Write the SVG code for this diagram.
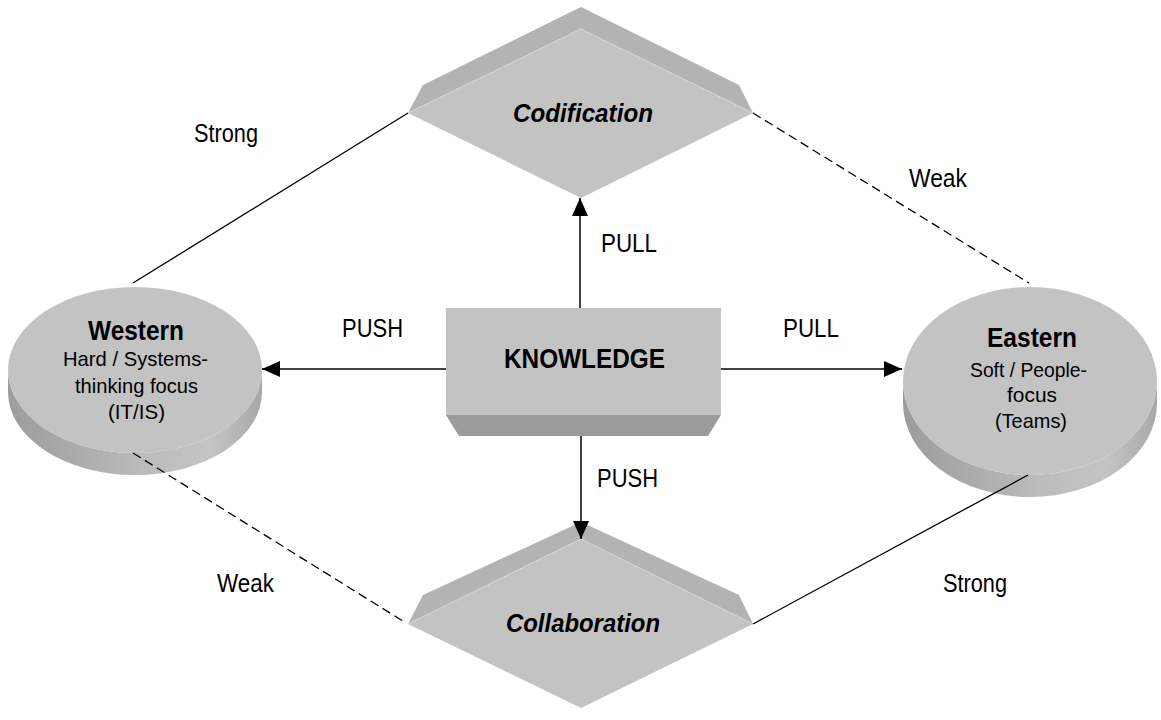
<svg xmlns="http://www.w3.org/2000/svg" width="1161" height="720" viewBox="0 0 1161 720">
<style>
text{font-family:"Liberation Sans",Arial,sans-serif;fill:#000}
.lbl{font-size:26px}
.sub{font-size:21px}
.ttl{font-size:27px;font-weight:bold}
.dia{font-size:26px;font-weight:bold;font-style:italic}
.face{fill:#c3c3c3}
.bevel{fill:#b3b3b3}
.seam{fill:none;stroke:#d6d6d6;stroke-width:1}
.conn{fill:none;stroke:#000;stroke-width:1.3}
.dash{stroke-dasharray:9 5}
.arr{fill:none;stroke:#000;stroke-width:1.5;marker-end:url(#ah)}
</style>
<defs>
<marker id="ah" markerUnits="userSpaceOnUse" markerWidth="18" markerHeight="16" refX="18" refY="8" orient="auto">
<path d="M0,0 L18,8 L0,16 Z" fill="#000"/>
</marker>
<linearGradient id="side" x1="0" y1="0" x2="1" y2="0">
<stop offset="0" stop-color="#9c9c9c"/>
<stop offset="0.55" stop-color="#bcbcbc"/>
<stop offset="0.8" stop-color="#c4c4c4"/>
<stop offset="1" stop-color="#a8a8a8"/>
</linearGradient>
</defs>
<rect width="1161" height="720" fill="#fff"/>

<g id="codification">
<polygon class="bevel" points="408,113 423,85 581,7 739,85 753,113 581,29"/>
<polygon class="face" points="581,29 753,113 581,198 408,113"/>
<polyline class="seam" points="408,113 581,29 753,113"/>
<text class="dia" x="513" y="122" textLength="140" lengthAdjust="spacingAndGlyphs">Codification</text>
</g>

<g id="collaboration">
<polygon class="bevel" points="408,624 423,595 581,522 739,595 753,624 581,539"/>
<polygon class="face" points="581,539 753,624 581,708 408,624"/>
<polyline class="seam" points="408,624 581,539 753,624"/>
<text class="dia" x="506" y="632" textLength="154" lengthAdjust="spacingAndGlyphs">Collaboration</text>
</g>

<g id="knowledge">
<polygon fill="#9b9b9b" points="446,415 721,415 708,436 459,436"/>
<rect class="face" x="446" y="308" width="275" height="107"/>
<text class="ttl" style="font-size:28px" x="504" y="368" textLength="161" lengthAdjust="spacingAndGlyphs">KNOWLEDGE</text>
</g>

<g id="western">
<path fill="url(#side)" d="M8,370 A127 83 0 0 0 262,370 L262,392 A127 83 0 0 1 8,392 Z"/>
<ellipse class="face" cx="135" cy="370" rx="127" ry="83"/>
<text class="ttl" x="88" y="340" textLength="96" lengthAdjust="spacingAndGlyphs">Western</text>
<text class="sub" x="63" y="366" textLength="145" lengthAdjust="spacingAndGlyphs">Hard / Systems-</text>
<text class="sub" x="75" y="393" textLength="123" lengthAdjust="spacingAndGlyphs">thinking focus</text>
<text class="sub" x="108" y="419" textLength="57" lengthAdjust="spacingAndGlyphs">(IT/IS)</text>
</g>

<g id="eastern">
<path fill="url(#side)" d="M903,381 A127 94 0 0 0 1157,381 L1157,403 A127 94 0 0 1 903,403 Z"/>
<ellipse class="face" cx="1030" cy="381" rx="127" ry="94"/>
<text class="ttl" x="987" y="347" textLength="90" lengthAdjust="spacingAndGlyphs">Eastern</text>
<text class="sub" x="970" y="377" textLength="117" lengthAdjust="spacingAndGlyphs">Soft / People-</text>
<text class="sub" x="1007" y="402" textLength="50" lengthAdjust="spacingAndGlyphs">focus</text>
<text class="sub" x="995" y="428" textLength="72" lengthAdjust="spacingAndGlyphs">(Teams)</text>
</g>

<g id="connectors">
<line class="conn" x1="133" y1="283" x2="408" y2="113"/>
<line class="conn dash" x1="753" y1="113" x2="1029" y2="283"/>
<line class="conn dash" x1="133" y1="453" x2="406" y2="623"/>
<line class="conn" x1="753" y1="624" x2="1028" y2="475"/>
<line class="arr" x1="580" y1="308" x2="580" y2="198"/>
<line class="arr" x1="446" y1="369" x2="262" y2="369"/>
<line class="arr" x1="721" y1="369" x2="902" y2="369"/>
<line class="arr" x1="581" y1="436" x2="581" y2="539"/>
<text class="lbl" x="194" y="142" textLength="64" lengthAdjust="spacingAndGlyphs">Strong</text>
<text class="lbl" x="909" y="187" textLength="58" lengthAdjust="spacingAndGlyphs">Weak</text>
<text class="lbl" x="601" y="252" textLength="56" lengthAdjust="spacingAndGlyphs">PULL</text>
<text class="lbl" x="342" y="337" textLength="61" lengthAdjust="spacingAndGlyphs">PUSH</text>
<text class="lbl" x="783" y="337" textLength="56" lengthAdjust="spacingAndGlyphs">PULL</text>
<text class="lbl" x="597" y="487" textLength="61" lengthAdjust="spacingAndGlyphs">PUSH</text>
<text class="lbl" x="217" y="592" textLength="57" lengthAdjust="spacingAndGlyphs">Weak</text>
<text class="lbl" x="943" y="592" textLength="64" lengthAdjust="spacingAndGlyphs">Strong</text>
</g>
</svg>
